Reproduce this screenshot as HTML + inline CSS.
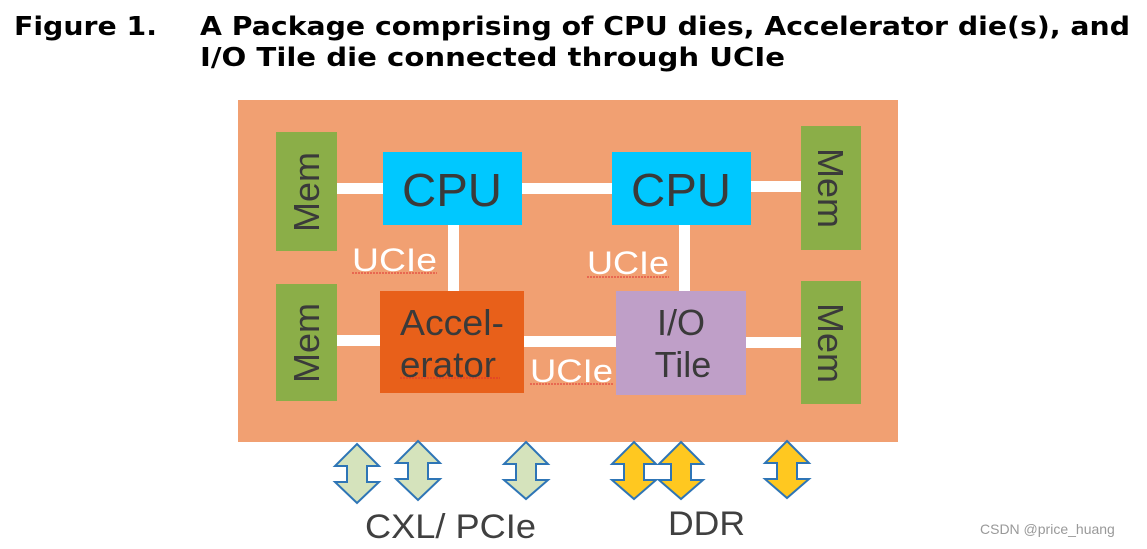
<!DOCTYPE html>
<html><head><meta charset="utf-8"><style>
html,body{margin:0;padding:0;background:#fff;}
svg{display:block;}
</style></head><body>
<svg width="1147" height="549" viewBox="0 0 1147 549" xmlns="http://www.w3.org/2000/svg">
<g font-family="'DejaVu Sans', Verdana, sans-serif" font-weight="bold" font-size="26" fill="#000">
<text x="14" y="35" textLength="143" lengthAdjust="spacingAndGlyphs">Figure 1.</text>
<text x="200" y="35" textLength="930" lengthAdjust="spacingAndGlyphs">A Package comprising of CPU dies, Accelerator die(s), and</text>
<text x="200" y="66" textLength="585" lengthAdjust="spacingAndGlyphs">I/O Tile die connected through UCIe</text>
</g>
<rect x="238" y="100" width="660" height="342" fill="#F1A072"/>
<g fill="#fff">
<rect x="336" y="183" width="48" height="11"/>
<rect x="521" y="183" width="92" height="11"/>
<rect x="750" y="181" width="52" height="11"/>
<rect x="448" y="225" width="11" height="67"/>
<rect x="679" y="225" width="11" height="67"/>
<rect x="331" y="335" width="50" height="11"/>
<rect x="524" y="336" width="93" height="11"/>
<rect x="746" y="337" width="56" height="11"/>
</g>
<rect x="276" y="132" width="61" height="119" fill="#8BAE48"/>
<rect x="801" y="126" width="60" height="124" fill="#8BAE48"/>
<rect x="276" y="284" width="61" height="117" fill="#8BAE48"/>
<rect x="801" y="281" width="60" height="123" fill="#8BAE48"/>
<rect x="383" y="152" width="139" height="73" fill="#00C8FF"/>
<rect x="612" y="152" width="139" height="73" fill="#00C8FF"/>
<rect x="380" y="291" width="144" height="102" fill="#E8601A"/>
<rect x="616" y="291" width="130" height="104" fill="#BF9FC8"/>
<g font-family="'Liberation Sans', sans-serif" fill="#3a3a3a">
<text x="452" y="206" font-size="46" text-anchor="middle" textLength="100" lengthAdjust="spacingAndGlyphs">CPU</text>
<text x="681" y="206" font-size="46" text-anchor="middle" textLength="100" lengthAdjust="spacingAndGlyphs">CPU</text>
<text x="452" y="335" font-size="36" text-anchor="middle" textLength="104" lengthAdjust="spacingAndGlyphs">Accel-</text>
<text x="448" y="377" font-size="36" text-anchor="middle" textLength="96" lengthAdjust="spacingAndGlyphs">erator</text>
<text x="681" y="335" font-size="36" text-anchor="middle">I/O</text>
<text x="683" y="377" font-size="36" text-anchor="middle">Tile</text>
<text font-size="36" text-anchor="middle" transform="translate(319,192) rotate(-90)">Mem</text>
<text font-size="36" text-anchor="middle" transform="translate(319,343) rotate(-90)">Mem</text>
<text font-size="36" text-anchor="middle" transform="translate(818,188) rotate(90)">Mem</text>
<text font-size="36" text-anchor="middle" transform="translate(818,343) rotate(90)">Mem</text>
</g>
<g font-family="'Liberation Sans', sans-serif" fill="#fff" font-size="32">
<text x="352" y="271" textLength="85" lengthAdjust="spacingAndGlyphs">UCIe</text>
<text x="587" y="274" textLength="82" lengthAdjust="spacingAndGlyphs">UCIe</text>
<text x="530" y="382" textLength="83" lengthAdjust="spacingAndGlyphs">UCIe</text>
</g>
<g stroke="#e03030" stroke-width="1" stroke-dasharray="2,1">
<line x1="352" y1="273" x2="437" y2="273"/>
<line x1="587" y1="277" x2="669" y2="277"/>
<line x1="530" y1="384" x2="613" y2="384"/>
<line x1="400" y1="378" x2="500" y2="378"/>
</g>
<g stroke="#2E75B6" stroke-width="2" stroke-linejoin="miter">
<path fill="#D5E3BC" d="M357,444 L379,466 L367,466 L367,482 L379,482 L357,503 L335,482 L347,482 L347,466 L335,466 Z"/>
<path fill="#D5E3BC" d="M418,441 L440,463 L428,463 L428,479 L440,479 L418,500 L396,479 L408,479 L408,463 L396,463 Z"/>
<path fill="#D5E3BC" d="M526,442 L548,464 L536,464 L536,480 L548,480 L526,499 L504,480 L516,480 L516,464 L504,464 Z"/>
<path fill="#FFC820" d="M634,442 L656,464 L644,464 L644,480 L656,480 L634,499 L612,480 L624,480 L624,464 L612,464 Z"/>
<path fill="#FFC820" d="M681,442 L703,464 L691,464 L691,480 L703,480 L681,499 L659,480 L671,480 L671,464 L659,464 Z"/>
<path fill="#FFC820" d="M787,441 L809,463 L797,463 L797,479 L809,479 L787,498 L765,479 L777,479 L777,463 L765,463 Z"/>
</g>
<g font-family="'Liberation Sans', sans-serif" fill="#404040" font-size="34">
<text x="365" y="538" textLength="171" lengthAdjust="spacingAndGlyphs">CXL/ PCIe</text>
<text x="668" y="535" textLength="77" lengthAdjust="spacingAndGlyphs">DDR</text>
</g>
<text x="980" y="534" font-family="'Liberation Sans', sans-serif" font-size="14" fill="#999">CSDN @price_huang</text>
</svg>
</body></html>
